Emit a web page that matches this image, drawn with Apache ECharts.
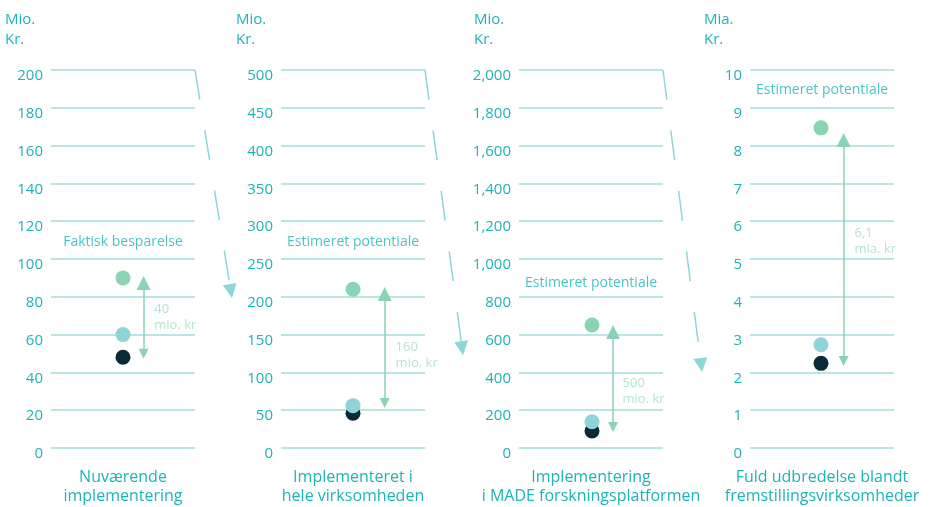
<!DOCTYPE html>
<html>
<head>
<meta charset="utf-8">
<script src="https://cdn.jsdelivr.net/npm/echarts@6/dist/echarts.min.js"></script>
<style>html,body{margin:0;padding:0;background:#fff;}#c{width:932px;height:507px;}</style>
</head>
<body>
<div id="c"></div>
<script>
var categories = ['Nuværende\nimplementering', 'Implementeret i\nhele virksomheden', 'Implementering\ni MADE forskningsplatformen', 'Fuld udbredelse blandt\nfremstillingsvirksomheder'];
var units = ['Mio.\nKr.', 'Mio.\nKr.', 'Mio.\nKr.', 'Mia.\nKr.'];
var axisMax = [200, 500, 2000, 10];
var axisInterval = [20, 50, 200, 1];
var currentVals = [48, 46, 90, 2.24];
var lightVals = [60, 56, 139, 2.73];
var potentialVals = [90, 210, 651, 8.47];
var arrowFrom = [49.9, 59.5, 111, 2.3];
var arrowTo = [87.3, 203.7, 614, 8.15];
var savingsLabels = ['40\nmio. kr', '160\nmio. kr', '500\nmio. kr', '6,1\nmia. kr'];
var savingsLabelY = [69, 123, 302, 5.48];
var annotations = ['Faktisk besparelse', 'Estimeret potentiale', 'Estimeret potentiale', 'Estimeret potentiale'];
var annotationY = [109, 272.5, 873, 9.47];
var transitionEndX = [1.249, 1.258, 1.265];
var transitionEndY = [83, 132, 439];

var FONT = 'Open Sans';
var TEAL = '#1db4b8';
var GRID = '#a3dede';
var GREEN = '#8bd3b5';
var LIGHT = '#8fd4d8';
var DARK = '#0a2a38';
var SAVE = '#a3dcc3';

var gridLefts = [51, 281, 519, 750];
var unitLefts = [0, 231, 469, 699];
var dotX = [0.5, 0.5, 0.507, 0.493];
var arrowX = [0.643, 0.72, 0.653, 0.65];
var labelX = [0.717, 0.796, 0.719, 0.726];

var grids = [], xAxes = [], yAxes = [], series = [], titles = [];
for (var i = 0; i < 4; i++) {
  grids.push({left: gridLefts[i], top: 70, width: 144, height: 378, outerBoundsMode: 'none', containLabel: false});
  xAxes.push({
    type: 'value', gridIndex: i, min: 0, max: 1, show: true,
    axisLine: {show: false}, axisTick: {show: false}, axisLabel: {show: false}, splitLine: {show: false},
    name: categories[i], nameLocation: 'middle', nameGap: 20,
    nameTextStyle: {color: TEAL, fontSize: 16, fontFamily: FONT, lineHeight: 19, verticalAlign: 'top'}
  });
  yAxes.push({
    type: 'value', gridIndex: i, min: 0, max: axisMax[i], interval: axisInterval[i],
    axisLine: {show: false}, axisTick: {show: false},
    axisLabel: {color: TEAL, fontSize: 15, fontFamily: FONT, margin: 8, verticalAlign: 'top', lineHeight: 12,
      formatter: function (v) { return v.toLocaleString('en-US'); }},
    splitLine: {lineStyle: {color: GRID, width: 1.5}}
  });
  titles.push({text: units[i], left: unitLefts[i], top: 5,
    textStyle: {color: TEAL, fontSize: 15, fontWeight: 'normal', fontFamily: FONT, lineHeight: 20}});

  series.push({type: 'scatter', xAxisIndex: i, yAxisIndex: i, symbolSize: 15, z: 5,
    itemStyle: {color: GREEN, opacity: 1}, data: [[dotX[i], potentialVals[i]]]});
  series.push({type: 'scatter', xAxisIndex: i, yAxisIndex: i, symbolSize: 15, z: 5,
    itemStyle: {color: DARK, opacity: 1}, data: [[dotX[i], currentVals[i]]]});
  series.push({type: 'scatter', xAxisIndex: i, yAxisIndex: i, symbolSize: 15, z: 6,
    itemStyle: {color: LIGHT, opacity: 1}, data: [[dotX[i], lightVals[i]]]});
  series.push({type: 'lines', coordinateSystem: 'cartesian2d', xAxisIndex: i, yAxisIndex: i, z: 4,
    symbol: ['triangle', 'triangle'], symbolSize: [10, 14],
    lineStyle: {color: GREEN, width: 1.5, opacity: 1},
    data: [{coords: [[arrowX[i], arrowFrom[i]], [arrowX[i], arrowTo[i]]]}]});
  series.push({type: 'scatter', xAxisIndex: i, yAxisIndex: i, symbolSize: 0, silent: true,
    label: {show: true, position: 'right', distance: 0, formatter: savingsLabels[i], color: SAVE,
      fontSize: 13, fontFamily: FONT, lineHeight: 16, align: 'left'},
    data: [[labelX[i], savingsLabelY[i]]]});
  series.push({type: 'scatter', xAxisIndex: i, yAxisIndex: i, symbolSize: 0, silent: true,
    label: {show: true, position: 'inside', formatter: annotations[i], color: TEAL,
      fontSize: 14, fontFamily: FONT},
    data: [[0.5, annotationY[i]]]});
  if (i < 3) {
    series.push({type: 'lines', coordinateSystem: 'cartesian2d', xAxisIndex: i, yAxisIndex: i, clip: false,
      symbol: ['none', 'triangle'], symbolSize: [10, 14], z: 3,
      lineStyle: {color: '#8fd6d9', width: 1.5, opacity: 1, type: [30, 31]},
      data: [{coords: [[1, axisMax[i]], [transitionEndX[i], transitionEndY[i]]]}]});
  }
}

var chart = echarts.init(document.getElementById('c'));
chart.setOption({
  animation: false,
  title: titles,
  grid: grids, xAxis: xAxes, yAxis: yAxes, series: series
});
</script>
</body>
</html>
